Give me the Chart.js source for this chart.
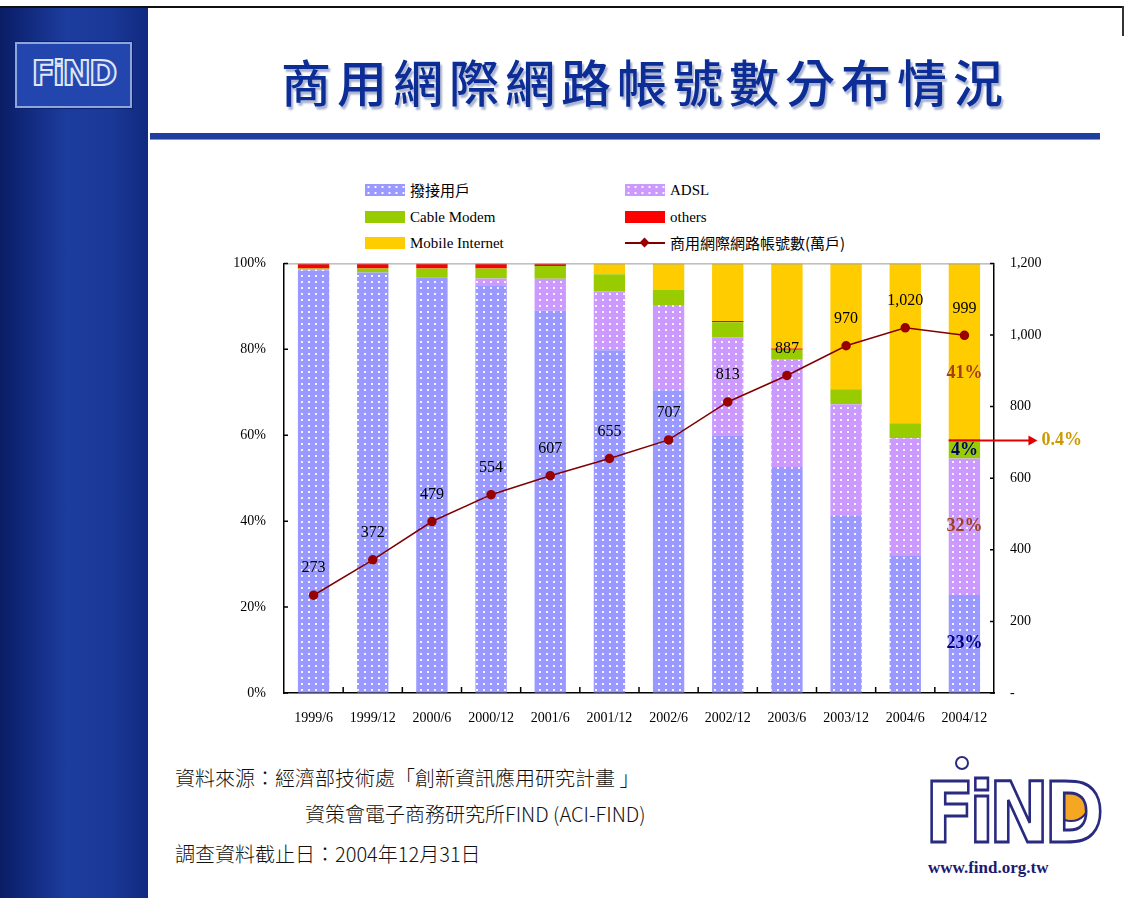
<!DOCTYPE html>
<html>
<head>
<meta charset="utf-8">
<script src="https://cdn.jsdelivr.net/npm/chart.js@4"></script>
<style>
  html, body { margin: 0; padding: 0; background: #fff; }
  body { width: 1129px; height: 898px; position: relative; overflow: hidden; font-family: "Noto Sans CJK TC", sans-serif; }
  #topline { position: absolute; left: 0; top: 6px; width: 1124px; height: 2px; background: #111; }
  #rightline { position: absolute; left: 1122px; top: 6px; width: 2px; height: 30px; background: #333; }
  #side { position: absolute; left: 0; top: 8px; width: 148px; height: 890px;
          background: linear-gradient(to right, #0a1d66 0%, #1c3c9e 45%, #1a3897 75%, #102a80 100%); }
  #logoBox { position: absolute; left: 15px; top: 42px; width: 113px; height: 62px; border: 2px solid #8ea6dc;
             background: #2246ad; box-shadow: 0 0 0 1px #0b2170; }
  #logoBox span { position: absolute; left: 0; right: 0; top: 9px; text-align: center; font: bold 34px "DejaVu Sans", sans-serif;
                  color: #3152b8; -webkit-text-stroke: 2px #dfe6f5; letter-spacing: -2px; }
  #title { position: absolute; left: 150px; width: 990px; top: 44px; text-align: center; font-size: 50px; letter-spacing: 6px;
           color: #0d2d96; text-shadow: 2px 3px 2px #a8b2cf; font-weight: 500; }
  #rule { position: absolute; left: 150px; top: 133px; width: 950px; height: 6px; background: #1f3f9e; border-bottom: 1px solid #8894b8; }
  #chart { position: absolute; left: 200px; top: 237px; }
  .leg { position: absolute; font-size: 15px; color: #000; line-height: 16px; white-space: nowrap; }
  .sw { position: absolute; width: 40px; height: 12px; }
  .foot { position: absolute; font-size: 20px; color: #111; white-space: nowrap; font-weight: 300; }
  #bigLogo { position: absolute; left: 925px; top: 768px; font: bold 84px "DejaVu Sans", sans-serif; color: #fff;
             -webkit-text-stroke: 3px #2a2a80; letter-spacing: -6px; line-height: 90px; transform: scaleX(0.86); transform-origin: left top; }
  #antenna { position: absolute; left: 955px; top: 756px; width: 10px; height: 10px; border: 2px solid #2a2a80; border-radius: 50%; background: #fff; }
  #paddle { position: absolute; left: 1052px; top: 784px; width: 34px; height: 34px; border-radius: 50%; background: #f5a623; border: 2px solid #2a2a80; }
  #url { position: absolute; left: 928px; top: 858px; font: bold 17px "Liberation Serif", serif; color: #1b1b70; }
</style>
</head>
<body>
<div id="topline"></div>
<div id="rightline"></div>
<div id="side"></div>
<div id="logoBox"><span>FiND</span></div>
<div id="title">商用網際網路帳號數分布情況</div>
<div id="rule"></div>

<div id="legend"></div>
<canvas id="chart" width="929" height="496"></canvas>

<div class="foot" style="left:175px;top:763px;">資料來源：經濟部技術處「創新資訊應用研究計畫 」</div>
<div class="foot" style="left:305px;top:799px;">資策會電子商務研究所FIND (ACI-FIND)</div>
<div class="foot" style="left:175px;top:839px;">調查資料截止日：2004年12月31日</div>
<div id="paddle"></div>
<div id="bigLogo">FiND</div>
<div id="antenna"></div>
<div id="url">www.find.org.tw</div>

<script>
"use strict";
// 資料
const periods = ["1999/6", "1999/12", "2000/6", "2000/12", "2001/6", "2001/12", "2002/6", "2002/12", "2003/6", "2003/12", "2004/6", "2004/12"];
const dialUp = [98.4, 97.9, 96.8, 94.9, 89.0, 79.8, 70.5, 60.0, 52.6, 41.2, 31.9, 22.8];
const adsl = [0.1, 0.0, 0.0, 1.6, 7.4, 13.7, 19.8, 22.8, 25.0, 26.0, 27.4, 31.8];
const cableModem = [0.3, 0.9, 2.0, 2.3, 3.0, 4.0, 3.5, 3.5, 2.3, 3.5, 3.5, 4.0];
const others = [1.2, 1.2, 1.2, 1.2, 0.6, 0.0, 0.0, 0.3, 0.3, 0.0, 0.0, 0.4];
const mobile = [0.0, 0.0, 0.0, 0.0, 0.0, 2.5, 6.2, 13.4, 19.8, 29.3, 37.2, 41.0];
const accounts = [273, 372, 479, 554, 607, 655, 707, 813, 887, 970, 1020, 999];
const lastBarLabels = ["23%", "32%", "4%", "0.4%", "41%"];
const leftTicks = [0, 20, 40, 60, 80, 100];
const rightTicks = [0, 200, 400, 600, 800, 1000, 1200];

document.addEventListener("DOMContentLoaded", () => {
    const $chart = document.querySelector("#chart");

    function dotPattern(bg) {
        const c = document.createElement("canvas");
        c.width = 7;
        c.height = 6;
        const g = c.getContext("2d");
        g.fillStyle = bg;
        g.fillRect(0, 0, 7, 6);
        g.fillStyle = "rgba(255,255,255,0.9)";
        g.fillRect(3, 2, 2, 2);
        return g.createPattern(c, "repeat");
    }

    const series = [
        { label: "撥接用戶", data: dialUp, color: "#9999ff", dots: true, textColor: "#000080" },
        { label: "ADSL", data: adsl, color: "#cc99ff", dots: true, textColor: "#a0401a" },
        { label: "Cable Modem", data: cableModem, color: "#99cc00", dots: false, textColor: "#000066" },
        { label: "others", data: others, color: "#ff0000", dots: false, textColor: "#cc9900" },
        { label: "Mobile Internet", data: mobile, color: "#ffcc00", dots: false, textColor: "#a0401a" },
    ];

    // 圖例 (兩欄)
    const legend = document.querySelector("#legend");
    const legendPos = [[365, 184], [625, 184], [365, 211], [625, 211], [365, 237], [625, 237]];
    const legendItems = series.map(s => ({ label: s.label, color: s.color, dots: s.dots }));
    legendItems.push({ label: "商用網際網路帳號數(萬戶)", line: true });
    legendItems.forEach((it, i) => {
        const [x, y] = legendPos[i];
        const sw = document.createElement("div");
        sw.className = "sw";
        sw.style.left = x + "px";
        sw.style.top = y + "px";
        if (it.line) {
            sw.style.background = "none";
            sw.innerHTML = '<div style="position:absolute;left:0;top:5px;width:40px;height:2px;background:#800000"></div>' +
                '<div style="position:absolute;left:16px;top:2px;width:7px;height:7px;background:#990000;transform:rotate(45deg)"></div>';
        } else if (it.dots) {
            sw.style.background = `${it.color} radial-gradient(circle, rgba(255,255,255,0.95) 0.9px, transparent 1.3px) 0 0 / 7px 6px`;
        } else {
            sw.style.background = it.color;
        }
        legend.appendChild(sw);
        const t = document.createElement("div");
        t.className = "leg";
        t.style.left = (x + 45) + "px";
        t.style.top = (y - 2) + "px";
        t.style.fontFamily = /[A-Za-z]/.test(it.label) && !it.line ? '"Liberation Serif", serif' : '"Noto Sans CJK TC", sans-serif';
        t.textContent = it.label;
        legend.appendChild(t);
    });

    const annotate = {
        id: "annotate",
        afterDraw(chart) {
            const { ctx, chartArea } = chart;
            const xs = chart.scales.x, yl = chart.scales.y, yr = chart.scales.y1;
            ctx.save();
            // 上框線
            ctx.strokeStyle = "#9a9a9a";
            ctx.lineWidth = 1;
            ctx.beginPath();
            ctx.moveTo(chartArea.left, chartArea.top + 0.5);
            ctx.lineTo(chartArea.right, chartArea.top + 0.5);
            ctx.stroke();
            // 內側刻度
            ctx.strokeStyle = "#000";
            ctx.lineWidth = 1.5;
            ctx.beginPath();
            leftTicks.forEach(v => {
                const y = yl.getPixelForValue(v);
                ctx.moveTo(chartArea.left, y);
                ctx.lineTo(chartArea.left + 4, y);
            });
            rightTicks.forEach(v => {
                const y = yr.getPixelForValue(v);
                ctx.moveTo(chartArea.right, y);
                ctx.lineTo(chartArea.right - 4, y);
            });
            for (let i = 1; i < periods.length; i++) {
                const x = (xs.getPixelForValue(i - 1) + xs.getPixelForValue(i)) / 2;
                ctx.moveTo(x, chartArea.bottom);
                ctx.lineTo(x, chartArea.bottom - 6);
            }
            ctx.stroke();

            // 折線數值
            const lineMeta = chart.getDatasetMeta(series.length);
            ctx.fillStyle = "#000";
            ctx.font = '16px "Liberation Serif", serif';
            ctx.textAlign = "center";
            ctx.textBaseline = "middle";
            lineMeta.data.forEach((pt, i) => {
                ctx.fillText(accounts[i].toLocaleString("en-US"), pt.x, pt.y - 27);
            });

            // 最後一根長條的百分比
            const last = periods.length - 1;
            ctx.font = 'bold 18px "Liberation Serif", serif';
            series.forEach((s, d) => {
                const bar = chart.getDatasetMeta(d).data[last];
                const cy = (bar.y + bar.base) / 2;
                ctx.fillStyle = s.textColor;
                if (d === 3) {
                    const ax0 = bar.x - bar.width / 2, ax1 = bar.x + 65;
                    ctx.strokeStyle = "#e00000";
                    ctx.lineWidth = 2;
                    ctx.beginPath();
                    ctx.moveTo(ax0, cy);
                    ctx.lineTo(ax1, cy);
                    ctx.stroke();
                    ctx.fillStyle = "#e00000";
                    ctx.beginPath();
                    ctx.moveTo(ax1 + 8, cy);
                    ctx.lineTo(ax1 - 1, cy - 5);
                    ctx.lineTo(ax1 - 1, cy + 5);
                    ctx.closePath();
                    ctx.fill();
                    ctx.fillStyle = s.textColor;
                    ctx.textAlign = "left";
                    ctx.fillText(lastBarLabels[d], ax1 + 12, cy);
                    ctx.textAlign = "center";
                } else {
                    const dy = d === 4 ? 22 : 0;
                    ctx.fillText(lastBarLabels[d], bar.x, cy + dy);
                }
            });
            ctx.restore();
        },
    };

    const datasets = series.map(s => ({
        type: "bar",
        label: s.label,
        data: s.data,
        backgroundColor: s.dots ? dotPattern(s.color) : s.color,
        borderWidth: 0,
        yAxisID: "y",
        stack: "share",
        barPercentage: 0.53,
        categoryPercentage: 1,
        order: 2,
    }));
    datasets.push({
        type: "line",
        label: "商用網際網路帳號數(萬戶)",
        data: accounts,
        yAxisID: "y1",
        borderColor: "#800000",
        borderWidth: 1.5,
        backgroundColor: "#990000",
        pointBackgroundColor: "#990000",
        pointBorderColor: "#990000",
        pointRadius: 4,
        pointStyle: "circle",
        tension: 0,
        order: 1,
    });

    const tickFont = { family: '"Liberation Serif", serif', size: 14 };

    new Chart($chart, {
        data: { labels: periods, datasets },
        options: {
            responsive: false,
            animation: false,
            devicePixelRatio: 1,
            layout: { padding: { top: 0, left: 0, right: 0, bottom: 0 } },
            plugins: {
                legend: { display: false },
                tooltip: { enabled: false },
            },
            scales: {
                x: {
                    stacked: true,
                    grid: { display: true, drawOnChartArea: false, drawTicks: false },
                    border: { color: "#000", width: 1.5 },
                    ticks: { color: "#000", font: tickFont, padding: 17, maxRotation: 0, autoSkip: false },
                    afterFit: s => { s.height = 40; },
                },
                y: {
                    position: "left",
                    stacked: true,
                    min: 0,
                    max: 100,
                    afterBuildTicks: s => { s.ticks = leftTicks.map(v => ({ value: v })); },
                    grid: { display: true, drawOnChartArea: false, drawTicks: false },
                    border: { color: "#000", width: 1.5 },
                    ticks: { color: "#000", font: tickFont, padding: 18, callback: v => v + "%" },
                    afterFit: s => { s.width = 84; },
                },
                y1: {
                    position: "right",
                    min: 0,
                    max: 1200,
                    afterBuildTicks: s => { s.ticks = rightTicks.map(v => ({ value: v })); },
                    grid: { display: true, drawOnChartArea: false, drawTicks: false },
                    border: { color: "#000", width: 1.5 },
                    ticks: { color: "#000", font: tickFont, padding: 16, callback: v => v === 0 ? "-" : v.toLocaleString("en-US") },
                    afterFit: s => { s.width = 135; },
                },
            },
        },
        plugins: [annotate],
    });
});
</script>
</body>
</html>
